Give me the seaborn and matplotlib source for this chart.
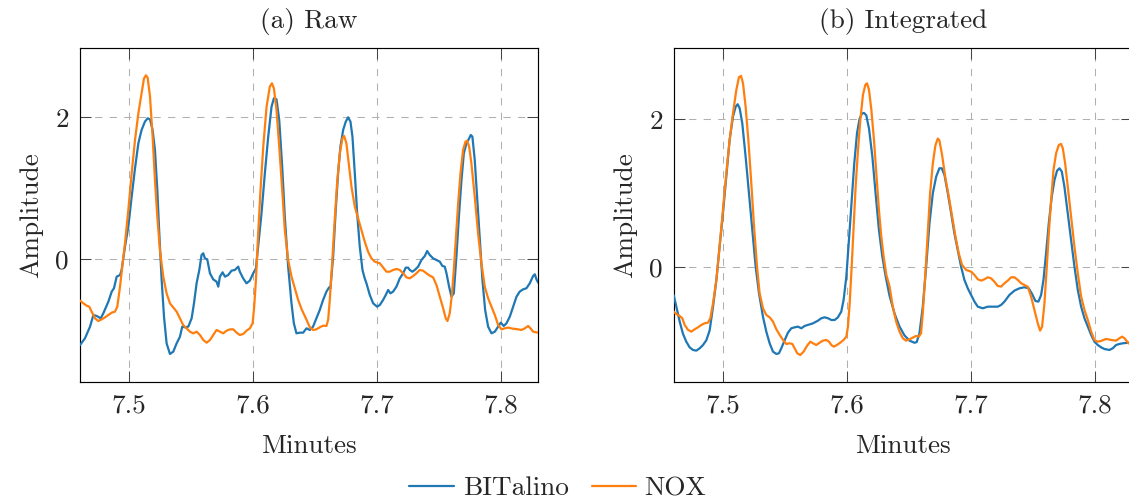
import matplotlib
matplotlib.use("Agg")
import matplotlib.pyplot as plt
import seaborn as sns

# ---------------------------------------------------------------- data
# Raw signals (time in minutes, amplitude)
raw_bit_t = [7.4602, 7.4642, 7.4683, 7.4710, 7.4737, 7.4769, 7.4790, 7.4831, 7.4858, 7.4876,
             7.4898, 7.4925, 7.4938, 7.4965, 7.4992, 7.5019, 7.5046, 7.5073, 7.5099, 7.5126,
             7.5148, 7.5167, 7.5188, 7.5207, 7.5226, 7.5242, 7.5261, 7.5280, 7.5301, 7.5328,
             7.5355, 7.5382, 7.5409, 7.5427, 7.5449, 7.5476, 7.5503, 7.5522, 7.5543, 7.5565,
             7.5583, 7.5597, 7.5610, 7.5629, 7.5651, 7.5677, 7.5704, 7.5718, 7.5731, 7.5753,
             7.5772, 7.5798, 7.5825, 7.5852, 7.5879, 7.5892, 7.5919, 7.5946, 7.5973, 7.6000,
             7.6022, 7.6040, 7.6067, 7.6094, 7.6121, 7.6148, 7.6167, 7.6188, 7.6210, 7.6234,
             7.6255, 7.6282, 7.6309, 7.6328, 7.6349, 7.6376, 7.6403, 7.6430, 7.6457, 7.6483,
             7.6510, 7.6537, 7.6564, 7.6591, 7.6613, 7.6623, 7.6645, 7.6666, 7.6685, 7.6704,
             7.6726, 7.6747, 7.6766, 7.6785, 7.6801, 7.6820, 7.6839, 7.6860, 7.6882, 7.6900,
             7.6914, 7.6941, 7.6968, 7.7000, 7.7022, 7.7048, 7.7070, 7.7089, 7.7108, 7.7129,
             7.7156, 7.7183, 7.7210, 7.7231, 7.7250, 7.7264, 7.7285, 7.7304, 7.7331, 7.7358,
             7.7385, 7.7404, 7.7425, 7.7452, 7.7479, 7.7506, 7.7527, 7.7546, 7.7560, 7.7581,
             7.7600, 7.7619, 7.7640, 7.7662, 7.7681, 7.7700, 7.7721, 7.7743, 7.7756, 7.7769,
             7.7788, 7.7807, 7.7829, 7.7850, 7.7872, 7.7896, 7.7923, 7.7950, 7.7977, 7.7998,
             7.8022, 7.8044, 7.8071, 7.8098, 7.8125, 7.8151, 7.8178, 7.8205, 7.8232, 7.8259,
             7.8273, 7.8286, 7.8300]
raw_bit = [-1.207, -1.113, -0.948, -0.784, -0.798, -0.831, -0.761, -0.596, -0.455, -0.408,
           -0.244, -0.221, -0.150, 0.178, 0.460, 0.883, 1.282, 1.634, 1.822, 1.939,
           1.986, 1.972, 1.822, 1.540, 0.977, 0.366, -0.291, -0.808, -1.183, -1.333,
           -1.300, -1.183, -1.089, -0.948, -0.958, -0.948, -0.831, -0.620, -0.338, -0.150,
           0.061, 0.085, 0.014, 0.000, -0.197, -0.282, -0.315, -0.385, -0.244, -0.183,
           -0.244, -0.221, -0.160, -0.150, -0.103, -0.174, -0.268, -0.338, -0.300, -0.197,
           -0.127, 0.178, 0.648, 1.211, 1.728, 2.150, 2.268, 2.254, 1.962, 1.305,
           0.601, -0.103, -0.620, -0.901, -1.042, -1.033, -1.033, -0.972, -0.995, -0.948,
           -0.831, -0.714, -0.573, -0.455, -0.394, -0.408, 0.038, 0.695, 1.211, 1.587,
           1.822, 1.939, 2.000, 1.939, 1.728, 1.211, 0.648, 0.178, -0.150, -0.268,
           -0.338, -0.502, -0.620, -0.667, -0.643, -0.573, -0.502, -0.432, -0.479, -0.455,
           -0.385, -0.268, -0.197, -0.117, -0.117, -0.150, -0.174, -0.150, -0.103, -0.009,
           0.047, 0.117, 0.061, 0.014, -0.009, -0.033, -0.094, -0.103, -0.197, -0.385,
           -0.526, -0.479, 0.038, 0.648, 1.117, 1.493, 1.634, 1.704, 1.751, 1.728,
           1.399, 0.883, 0.272, -0.291, -0.714, -0.948, -1.042, -1.019, -0.948, -0.892,
           -0.939, -0.901, -0.808, -0.667, -0.526, -0.455, -0.423, -0.408, -0.338, -0.235,
           -0.211, -0.282, -0.329]

raw_nox_t = [7.4602, 7.4629, 7.4656, 7.4677, 7.4696, 7.4723, 7.4750, 7.4777, 7.4804, 7.4831,
             7.4858, 7.4884, 7.4903, 7.4925, 7.4946, 7.4965, 7.4992, 7.5019, 7.5046, 7.5073,
             7.5099, 7.5118, 7.5134, 7.5148, 7.5167, 7.5188, 7.5207, 7.5226, 7.5247, 7.5274,
             7.5301, 7.5328, 7.5360, 7.5382, 7.5409, 7.5435, 7.5462, 7.5489, 7.5516, 7.5543,
             7.5570, 7.5597, 7.5624, 7.5651, 7.5677, 7.5704, 7.5731, 7.5758, 7.5785, 7.5812,
             7.5839, 7.5866, 7.5892, 7.5919, 7.5946, 7.5973, 7.5995, 7.6008, 7.6022, 7.6040,
             7.6059, 7.6081, 7.6108, 7.6134, 7.6151, 7.6167, 7.6188, 7.6210, 7.6234, 7.6255,
             7.6282, 7.6309, 7.6336, 7.6363, 7.6390, 7.6430, 7.6457, 7.6483, 7.6510, 7.6537,
             7.6564, 7.6591, 7.6605, 7.6618, 7.6637, 7.6658, 7.6677, 7.6699, 7.6720, 7.6734,
             7.6752, 7.6774, 7.6793, 7.6820, 7.6847, 7.6874, 7.6900, 7.6927, 7.6954, 7.6981,
             7.7022, 7.7048, 7.7075, 7.7102, 7.7129, 7.7156, 7.7183, 7.7210, 7.7237, 7.7264,
             7.7291, 7.7317, 7.7344, 7.7371, 7.7398, 7.7425, 7.7452, 7.7479, 7.7506, 7.7533,
             7.7554, 7.7568, 7.7586, 7.7605, 7.7621, 7.7635, 7.7654, 7.7673, 7.7694, 7.7713,
             7.7726, 7.7743, 7.7761, 7.7788, 7.7815, 7.7842, 7.7869, 7.7896, 7.7923, 7.7950,
             7.7977, 7.8004, 7.8030, 7.8057, 7.8098, 7.8138, 7.8165, 7.8192, 7.8219, 7.8238,
             7.8259, 7.8300]
raw_nox = [-0.582, -0.620, -0.653, -0.667, -0.737, -0.831, -0.869, -0.845, -0.817, -0.784,
           -0.751, -0.737, -0.667, -0.385, -0.056, 0.225, 0.695, 1.211, 1.681, 2.056,
           2.338, 2.545, 2.592, 2.559, 2.291, 1.728, 1.117, 0.601, 0.131, -0.244,
           -0.479, -0.620, -0.690, -0.737, -0.831, -0.925, -0.972, -1.019, -1.042, -1.019,
           -1.066, -1.136, -1.174, -1.136, -1.066, -0.995, -1.019, -1.042, -1.005, -0.986,
           -0.986, -1.033, -1.066, -1.052, -1.005, -0.972, -0.901, -0.667, -0.291, 0.366,
           0.977, 1.587, 2.150, 2.432, 2.479, 2.408, 2.103, 1.587, 0.977, 0.413,
           -0.009, -0.244, -0.408, -0.573, -0.700, -0.850, -0.958, -0.995, -0.986, -0.958,
           -0.934, -0.939, -0.850, -0.573, -0.056, 0.554, 1.070, 1.493, 1.704, 1.737,
           1.634, 1.305, 1.023, 0.742, 0.577, 0.413, 0.249, 0.108, 0.014, -0.033,
           -0.056, -0.113, -0.174, -0.174, -0.150, -0.136, -0.150, -0.197, -0.254, -0.268,
           -0.235, -0.197, -0.150, -0.160, -0.197, -0.230, -0.254, -0.362, -0.526, -0.690,
           -0.831, -0.869, -0.761, -0.479, -0.103, 0.272, 0.789, 1.211, 1.540, 1.657,
           1.671, 1.587, 1.352, 0.883, 0.366, -0.056, -0.385, -0.549, -0.667, -0.784,
           -0.925, -0.986, -0.972, -0.962, -0.977, -0.986, -0.995, -0.972, -0.939, -0.972,
           -1.019, -1.033]

# Integrated signals (time in minutes, amplitude)
int_bit_t = [7.4599, 7.4621, 7.4648, 7.4674, 7.4701, 7.4728, 7.4755, 7.4782, 7.4809, 7.4836,
             7.4863, 7.4890, 7.4917, 7.4944, 7.4970, 7.4997, 7.5024, 7.5051, 7.5078, 7.5100,
             7.5116, 7.5132, 7.5153, 7.5180, 7.5207, 7.5234, 7.5261, 7.5288, 7.5320, 7.5347,
             7.5374, 7.5401, 7.5428, 7.5449, 7.5468, 7.5495, 7.5522, 7.5549, 7.5576, 7.5603,
             7.5630, 7.5656, 7.5683, 7.5724, 7.5764, 7.5791, 7.5818, 7.5845, 7.5872, 7.5899,
             7.5925, 7.5952, 7.5971, 7.5993, 7.6014, 7.6036, 7.6057, 7.6079, 7.6100, 7.6119,
             7.6135, 7.6154, 7.6176, 7.6203, 7.6229, 7.6256, 7.6283, 7.6310, 7.6341, 7.6381,
             7.6422, 7.6462, 7.6502, 7.6543, 7.6561, 7.6583, 7.6610, 7.6637, 7.6664, 7.6691,
             7.6718, 7.6744, 7.6763, 7.6785, 7.6812, 7.6839, 7.6865, 7.6892, 7.6919, 7.6946,
             7.6973, 7.7000, 7.7027, 7.7054, 7.7094, 7.7135, 7.7175, 7.7215, 7.7242, 7.7269,
             7.7309, 7.7350, 7.7390, 7.7430, 7.7465, 7.7492, 7.7519, 7.7543, 7.7565, 7.7584,
             7.7605, 7.7627, 7.7651, 7.7673, 7.7694, 7.7713, 7.7732, 7.7753, 7.7780, 7.7807,
             7.7834, 7.7861, 7.7888, 7.7915, 7.7942, 7.7969, 7.7995, 7.8022, 7.8049, 7.8076,
             7.8116, 7.8143, 7.8170, 7.8197, 7.8224, 7.8270, 7.8300]
int_bit = [-0.374, -0.532, -0.734, -0.896, -1.005, -1.081, -1.117, -1.126, -1.095, -1.050,
           -0.986, -0.851, -0.532, -0.171, 0.279, 0.730, 1.225, 1.721, 2.036, 2.171,
           2.203, 2.149, 1.946, 1.495, 1.000, 0.505, 0.009, -0.351, -0.667, -0.869,
           -1.027, -1.140, -1.171, -1.162, -1.095, -0.986, -0.882, -0.824, -0.811, -0.802,
           -0.824, -0.793, -0.779, -0.757, -0.721, -0.689, -0.676, -0.689, -0.712, -0.712,
           -0.676, -0.599, -0.441, -0.126, 0.369, 0.910, 1.405, 1.811, 2.009, 2.077,
           2.086, 2.054, 1.874, 1.495, 1.000, 0.505, 0.150, -0.120, -0.380, -0.620,
           -0.800, -0.920, -0.990, -1.020, -1.010, -0.892, -0.532, 0.005, 0.595, 1.000,
           1.225, 1.338, 1.338, 1.248, 1.000, 0.730, 0.459, 0.234, 0.009, -0.171,
           -0.284, -0.374, -0.464, -0.532, -0.554, -0.532, -0.532, -0.532, -0.509, -0.464,
           -0.374, -0.315, -0.284, -0.270, -0.284, -0.360, -0.455, -0.464, -0.374, -0.171,
           0.189, 0.595, 0.955, 1.180, 1.306, 1.338, 1.293, 1.090, 0.730, 0.369,
           0.009, -0.306, -0.532, -0.689, -0.802, -0.914, -1.005, -1.050, -1.081, -1.104,
           -1.117, -1.095, -1.050, -1.036, -1.027, -1.018, -1.015]

int_nox_t = [7.4599, 7.4621, 7.4648, 7.4669, 7.4688, 7.4715, 7.4742, 7.4769, 7.4796, 7.4822,
             7.4849, 7.4876, 7.4895, 7.4917, 7.4944, 7.4970, 7.4997, 7.5024, 7.5051, 7.5078,
             7.5105, 7.5126, 7.5143, 7.5159, 7.5180, 7.5202, 7.5226, 7.5248, 7.5272, 7.5293,
             7.5320, 7.5347, 7.5374, 7.5401, 7.5428, 7.5455, 7.5482, 7.5508, 7.5535, 7.5557,
             7.5576, 7.5597, 7.5621, 7.5648, 7.5675, 7.5702, 7.5724, 7.5751, 7.5778, 7.5804,
             7.5831, 7.5853, 7.5872, 7.5891, 7.5917, 7.5944, 7.5971, 7.5993, 7.6006, 7.6020,
             7.6036, 7.6052, 7.6068, 7.6087, 7.6106, 7.6127, 7.6146, 7.6160, 7.6176, 7.6195,
             7.6216, 7.6235, 7.6256, 7.6275, 7.6294, 7.6316, 7.6342, 7.6368, 7.6395, 7.6422,
             7.6449, 7.6475, 7.6502, 7.6529, 7.6556, 7.6578, 7.6596, 7.6610, 7.6631, 7.6650,
             7.6669, 7.6691, 7.6712, 7.6731, 7.6744, 7.6766, 7.6793, 7.6820, 7.6847, 7.6874,
             7.6900, 7.6927, 7.6960, 7.7000, 7.7027, 7.7054, 7.7081, 7.7108, 7.7135, 7.7161,
             7.7188, 7.7215, 7.7242, 7.7269, 7.7296, 7.7323, 7.7350, 7.7377, 7.7404, 7.7430,
             7.7457, 7.7484, 7.7511, 7.7538, 7.7557, 7.7573, 7.7592, 7.7611, 7.7627, 7.7646,
             7.7665, 7.7686, 7.7708, 7.7726, 7.7740, 7.7759, 7.7780, 7.7807, 7.7834, 7.7861,
             7.7888, 7.7915, 7.7942, 7.7969, 7.7995, 7.8022, 7.8049, 7.8090, 7.8130, 7.8170,
             7.8197, 7.8219, 7.8238, 7.8270, 7.8300]
int_nox = [-0.599, -0.631, -0.658, -0.689, -0.779, -0.845, -0.869, -0.838, -0.811, -0.779,
           -0.757, -0.748, -0.689, -0.486, -0.171, 0.279, 0.775, 1.270, 1.721, 2.081,
           2.396, 2.568, 2.586, 2.486, 2.171, 1.721, 1.135, 0.550, 0.009, -0.351,
           -0.554, -0.644, -0.676, -0.734, -0.838, -0.914, -0.982, -1.036, -1.027, -1.036,
           -1.095, -1.162, -1.185, -1.140, -1.063, -1.005, -1.027, -1.050, -1.018, -0.991,
           -0.982, -1.005, -1.050, -1.072, -1.050, -1.018, -0.982, -0.937, -0.802, -0.486,
           0.009, 0.550, 1.090, 1.586, 1.991, 2.329, 2.464, 2.486, 2.396, 2.126,
           1.721, 1.270, 0.775, 0.414, 0.144, -0.104, -0.261, -0.532, -0.734, -0.869,
           -0.959, -0.991, -0.973, -0.950, -0.928, -0.937, -0.892, -0.622, -0.081, 0.459,
           1.000, 1.405, 1.649, 1.739, 1.716, 1.514, 1.203, 0.955, 0.685, 0.414,
           0.189, 0.032, -0.036, -0.059, -0.104, -0.162, -0.180, -0.162, -0.135, -0.149,
           -0.194, -0.252, -0.261, -0.216, -0.180, -0.135, -0.135, -0.171, -0.216, -0.239,
           -0.261, -0.396, -0.577, -0.757, -0.856, -0.802, -0.486, 0.009, 0.459, 0.910,
           1.315, 1.541, 1.653, 1.667, 1.608, 1.405, 1.090, 0.685, 0.279, -0.081,
           -0.396, -0.577, -0.712, -0.869, -0.982, -1.005, -0.995, -0.968, -0.982, -0.991,
           -0.959, -0.937, -0.959, -1.027, -1.050]

panel_titles = ["(a) Raw", "(b) Integrated"]
series_names = ["BITalino", "NOX"]
x_ticks = [7.5, 7.6, 7.7, 7.8]
x_tick_labels = ["7.5", "7.6", "7.7", "7.8"]
y_ticks = [0, 2]
y_tick_labels = ["0", "2"]
x_label = "Minutes"
y_label = "Amplitude"

# ---------------------------------------------------------------- style
sns.set_style("white")
plt.rcParams["font.family"] = ["cmr10", "DejaVu Serif"]
plt.rcParams["mathtext.fontset"] = "cm"
plt.rcParams["axes.formatter.use_mathtext"] = True
FS = 19.6
BLUE = "#1f77b4"
ORANGE = "#ff7f0e"

W, H = 1129, 501
fig = plt.figure(figsize=(W / 100, H / 100), dpi=100)
ax_w, ax_h = 458.3 / W, 334 / H
bottom = (H - 382.3) / H
ax_raw = fig.add_axes([80 / W, bottom, ax_w, ax_h])
ax_int = fig.add_axes([674 / W, bottom, ax_w, ax_h])

panels = [
    (ax_raw, raw_bit_t, raw_bit, raw_nox_t, raw_nox, (-1.732, 2.972)),
    (ax_int, int_bit_t, int_bit, int_nox_t, int_nox, (-1.554, 2.959)),
]

for i, (ax, bt, bv, nt, nv, ylim) in enumerate(panels):
    sns.lineplot(x=bt, y=bv, ax=ax, color=BLUE, lw=1.6, label=series_names[0],
                 legend=False, zorder=3)
    sns.lineplot(x=nt, y=nv, ax=ax, color=ORANGE, lw=1.6, label=series_names[1],
                 legend=False, zorder=4)
    ax.set_xlim(7.4602, 7.8301)
    ax.set_ylim(*ylim)
    ax.set_xticks(x_ticks)
    ax.set_xticklabels(x_tick_labels)
    ax.set_yticks(y_ticks)
    ax.set_yticklabels(y_tick_labels)
    ax.tick_params(axis="both", which="major", direction="in", length=7.9, width=0.75,
                   color="#444444", labelsize=FS, pad=8.0,
                   top=True, right=True, bottom=True, left=True)
    ax.grid(True, color="#b0b0b0", lw=0.75, linestyle=(0, (7, 7)))
    ax.set_axisbelow(True)
    for sp in ax.spines.values():
        sp.set_visible(True)
        sp.set_color("black")
        sp.set_linewidth(0.85)
    ax.set_title(panel_titles[i], fontsize=FS, pad=14.5)
    ax.set_xlabel(x_label, fontsize=FS, labelpad=12)
    ax.set_ylabel(y_label, fontsize=FS, labelpad=9)

handles, labels = ax_raw.get_legend_handles_labels()
fig.legend(handles, labels, loc="center", bbox_to_anchor=(558 / W, 1 - 488 / H),
           ncol=2, frameon=False, fontsize=FS, handlelength=1.65,
           handletextpad=0.3, columnspacing=0.85)

fig.savefig("out.png", dpi=100)
